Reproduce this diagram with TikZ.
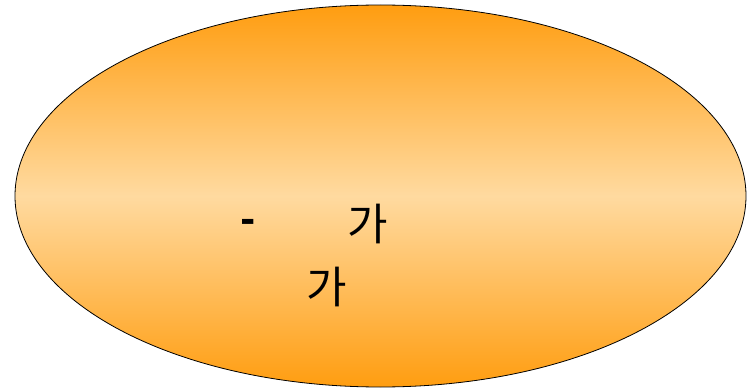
\documentclass[tikz,border=0pt]{standalone}
\usepackage{fontspec}
\newfontfamily\krfont{Noto Sans CJK KR}
\usetikzlibrary{shapes.geometric}
\definecolor{orangeedge}{RGB}{255,157,16}
\definecolor{peachmid}{RGB}{255,218,160}
\tikzset{
  blob/.style={ellipse, draw=black, line width=0.8pt, inner sep=0pt,
    top color=orangeedge, bottom color=orangeedge, middle color=peachmid},
  kr/.style={font=\krfont\fontsize{44}{50}\selectfont, inner sep=0pt}
}
\begin{document}
\begin{tikzpicture}[x=1pt,y=1pt]
\useasboundingbox (0,0) rectangle (747,389);
\node[blob, minimum width=731pt, minimum height=382pt] (e) at (380.5,193) {};
\node[kr, font=\krfont\bfseries\fontsize{40}{46}\selectfont] (d) at (248,163) {-};
\node[kr] (g1) at (368,165) {가};
\node[kr] (g2) at (327,102) {가};
\end{tikzpicture}
\end{document}
